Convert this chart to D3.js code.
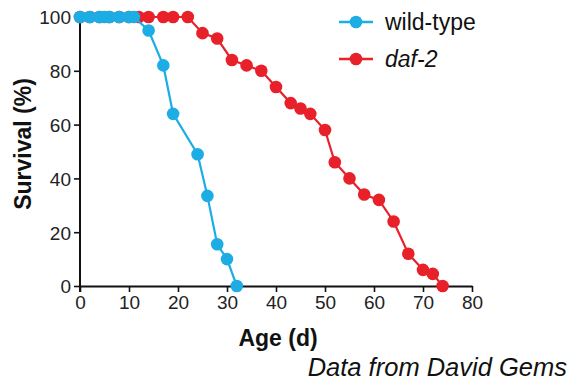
<!DOCTYPE html>
<html>
<head>
<meta charset="utf-8">
<script src="https://cdn.jsdelivr.net/npm/d3@7"></script>
<style>
  body { margin: 0; background: #fff; }
  svg { display: block; font-family: "Liberation Sans", Arial, sans-serif; }
</style>
</head>
<body>
<script>
const w = 576;
const h = 381;

// survival curves, age in days vs % alive
const wtDays     = [0, 2, 4, 5, 6, 8, 10, 11, 14, 17, 19, 24, 26, 28, 30, 32];
const wtSurvival = [100, 100, 100, 100, 100, 100, 100, 100, 95, 82, 64, 49, 33.5, 15.5, 10, 0];

const dafDays     = [0, 2, 4, 6, 8, 10, 12, 14, 17, 19, 22, 25, 28, 31, 34, 37, 40, 43, 45, 47, 50, 52, 55, 58, 61, 64, 67, 70, 72, 74];
const dafSurvival = [100, 100, 100, 100, 100, 100, 100, 100, 100, 100, 100, 94, 92, 84, 82, 80, 74, 68, 66, 64, 58, 46, 40, 34, 32, 24, 12, 6, 4.5, 0];

const xTicks = [0, 10, 20, 30, 40, 50, 60, 70, 80];
const yTicks = [0, 20, 40, 60, 80, 100];

const blue = "#1cade4";
const red = "#e8202a";

const series = [
  { name: "daf-2", color: red, italic: true, pts: dafDays.map((d, i) => [d, dafSurvival[i]]) },
  { name: "wild-type", color: blue, italic: false, pts: wtDays.map((d, i) => [d, wtSurvival[i]]) }
];

const svg = d3.select("body").append("svg")
  .attr("width", w)
  .attr("height", h);

const x = d3.scaleLinear().domain([0, 80]).range([80, 472]);
const y = d3.scaleLinear().domain([0, 100]).range([286, 17]);

// axes
const xAxis = svg.append("g")
  .attr("transform", "translate(0," + y(0) + ")")
  .call(d3.axisBottom(x).tickValues(xTicks).tickSize(6).tickPadding(3).tickSizeOuter(0));
const yAxis = svg.append("g")
  .attr("transform", "translate(" + x(0) + ",0)")
  .call(d3.axisLeft(y).tickValues(yTicks).tickSize(6).tickPadding(3).tickSizeOuter(0));

[xAxis, yAxis].forEach(g => {
  g.select(".domain").attr("stroke", "#111").attr("stroke-width", 2);
  g.selectAll(".tick line").attr("stroke", "#111").attr("stroke-width", 1.6);
  g.selectAll(".tick text").attr("fill", "#222").style("font-size", "19px").style("font-family", "Liberation Sans, Arial, sans-serif");
});
xAxis.selectAll(".tick text").attr("dy", "0.72em");
yAxis.selectAll(".tick text").attr("dy", "0.36em");

// extend y axis a bit below zero
yAxis.select(".domain").attr("d", "M0," + y(100) + "V" + (y(0) + 6));

svg.append("text")
  .attr("x", 278).attr("y", 346)
  .attr("text-anchor", "middle")
  .style("font-weight", "bold").style("font-size", "23px")
  .attr("fill", "#111")
  .text("Age (d)");

svg.append("text")
  .attr("transform", "translate(31,144) rotate(-90)")
  .attr("text-anchor", "middle")
  .style("font-weight", "bold").style("font-size", "23px")
  .attr("fill", "#111")
  .text("Survival (%)");

svg.append("text")
  .attr("x", 567).attr("y", 376)
  .attr("text-anchor", "end")
  .style("font-style", "italic").style("font-size", "25.5px")
  .attr("fill", "#111")
  .text("Data from David Gems");

// lines and markers
const line = d3.line().x(d => x(d[0])).y(d => y(d[1]));

series.forEach(s => {
  svg.append("path")
    .datum(s.pts)
    .attr("d", line)
    .attr("fill", "none")
    .attr("stroke", s.color)
    .attr("stroke-width", 2.2);
  svg.append("g").selectAll("circle")
    .data(s.pts)
    .enter()
    .append("circle")
    .attr("cx", d => x(d[0]))
    .attr("cy", d => y(d[1]))
    .attr("r", 6.3)
    .attr("fill", s.color);
});

// legend
const legend = svg.append("g");
[series[1], series[0]].forEach((s, i) => {
  const ly = 22 + i * 37;
  legend.append("line")
    .attr("x1", 339).attr("x2", 373)
    .attr("y1", ly).attr("y2", ly)
    .attr("stroke", s.color).attr("stroke-width", 2.6);
  legend.append("circle")
    .attr("cx", 356).attr("cy", ly).attr("r", 6.3)
    .attr("fill", s.color);
  legend.append("text")
    .attr("x", 385).attr("y", ly + 8)
    .style("font-size", "23px")
    .style("font-style", s.italic ? "italic" : "normal")
    .attr("fill", "#111")
    .text(s.name);
});
</script>
</body>
</html>
